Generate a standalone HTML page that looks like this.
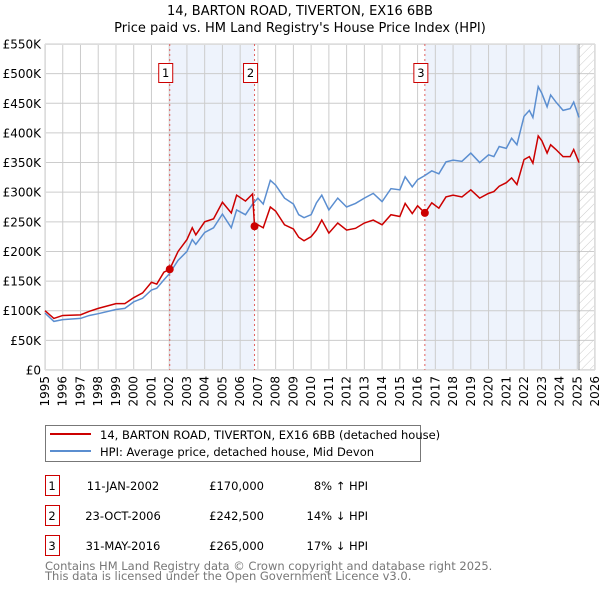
<!DOCTYPE html>
<html><head><meta charset="utf-8"><style>
body{margin:0;background:#fff;width:600px;height:590px;overflow:hidden;font-family:"DejaVu Sans","Liberation Sans",sans-serif}
svg text{font-family:"DejaVu Sans","Liberation Sans",sans-serif}
</style></head><body>
<svg id="chart" width="600" height="590" xmlns="http://www.w3.org/2000/svg">
<defs><pattern id="hatch" width="6" height="6" patternUnits="userSpaceOnUse" patternTransform="rotate(45)"><line x1="0" y1="0" x2="0" y2="6" stroke="#ccc" stroke-width="1"/></pattern></defs>
<text x="300" y="15" text-anchor="middle" font-size="13">14, BARTON ROAD, TIVERTON, EX16 6BB</text>
<text x="300" y="32" text-anchor="middle" font-size="13">Price paid vs. HM Land Registry's House Price Index (HPI)</text>
<g id="plot"></g>
<g>
<rect x="45.5" y="425.5" width="375" height="36" fill="#fff" stroke="#777"/>
<line x1="50" y1="434" x2="91" y2="434" stroke="#cc0000" stroke-width="2"/>
<text x="100" y="439" font-size="11.5">14, BARTON ROAD, TIVERTON, EX16 6BB (detached house)</text>
<line x1="50" y1="451" x2="91" y2="451" stroke="#5b8ed0" stroke-width="2"/>
<text x="100" y="456" font-size="11.5">HPI: Average price, detached house, Mid Devon</text>
</g>
<g id="table" font-size="11.5"></g>
<text x="45" y="570" font-size="11.5" fill="#777">Contains HM Land Registry data © Crown copyright and database right 2025.</text>
<text x="45" y="580" font-size="11.5" fill="#777">This data is licensed under the Open Government Licence v3.0.</text>
</svg>
<script>
const hpiYears=[1995,1995.5,1996,1997,1997.5,1998,1999,1999.5,2000,2000.5,2001,2001.3,2001.7,2002,2002.5,2003,2003.3,2003.5,2004,2004.5,2005,2005.5,2005.8,2006.3,2006.7,2007,2007.3,2007.7,2008,2008.5,2009,2009.3,2009.6,2010,2010.3,2010.6,2011,2011.5,2012,2012.5,2013,2013.5,2014,2014.5,2015,2015.3,2015.7,2016,2016.4,2016.8,2017.2,2017.6,2018,2018.5,2019,2019.5,2020,2020.3,2020.6,2021,2021.3,2021.6,2022,2022.3,2022.5,2022.8,2023,2023.3,2023.5,2023.8,2024.2,2024.6,2024.8,2025.1];
const hpiValues=[96,82,85,87,92,95,102,104,115,121,135,138,152,162,185,200,220,212,232,240,263,240,270,262,280,290,280,320,312,290,280,262,257,262,282,295,270,290,275,281,290,298,284,306,304,326,309,321,328,336,331,351,354,352,366,350,363,360,377,374,391,380,428,438,426,478,467,444,464,452,438,441,452,426];
const priceYears=[1995,1995.5,1996,1997,1997.5,1998,1999,1999.5,2000,2000.5,2001,2001.3,2001.7,2002.03,2002.5,2003,2003.3,2003.5,2004,2004.5,2005,2005.5,2005.8,2006.3,2006.7,2006.81,2007,2007.3,2007.7,2008,2008.5,2009,2009.3,2009.6,2010,2010.3,2010.6,2011,2011.5,2012,2012.5,2013,2013.5,2014,2014.5,2015,2015.3,2015.7,2016,2016.41,2016.8,2017.2,2017.6,2018,2018.5,2019,2019.5,2020,2020.3,2020.6,2021,2021.3,2021.6,2022,2022.3,2022.5,2022.8,2023,2023.3,2023.5,2023.8,2024.2,2024.6,2024.8,2025.1];
const priceValues=[100,87,92,93,99,104,112,112,122,130,148,145,165,170,200,220,240,228,250,255,283,265,295,285,297,242.5,245,240,275,268,245,238,224,218,225,236,253,231,248,236,239,248,253,245,262,259,281,264,277,265,282,273,292,295,292,304,290,298,301,310,316,324,313,355,360,349,395,387,366,380,372,360,360,372,350];
const saleYears=[2002.03,2006.81,2016.41];
const saleLabels=["1","2","3"];
const saleDates=["11-JAN-2002","23-OCT-2006","31-MAY-2016"];
const salePrices=["£170,000","£242,500","£265,000"];
const saleDiffs=["8% ↑ HPI","14% ↓ HPI","17% ↓ HPI"];
const yTicks=[0,50,100,150,200,250,300,350,400,450,500,550];
const yTickLabels=["£0","£50K","£100K","£150K","£200K","£250K","£300K","£350K","£400K","£450K","£500K","£550K"];
const xTicks=[1995,1996,1997,1998,1999,2000,2001,2002,2003,2004,2005,2006,2007,2008,2009,2010,2011,2012,2013,2014,2015,2016,2017,2018,2019,2020,2021,2022,2023,2024,2025,2026];
const salePriceValues=[170,242.5,265];
const dataEnd=2025.1;

const X0=45,X1=595,Y0=370,Y1=44;
const x=v=>X0+(v-1995)/(2026-1995)*(X1-X0);
const y=v=>Y0-v/550*(Y0-Y1);
const NS="http://www.w3.org/2000/svg";
const plot=document.getElementById('plot');
function mk(tag,attrs,parent){const e=document.createElementNS(NS,tag);for(const k in attrs)e.setAttribute(k,attrs[k]);(parent||plot).appendChild(e);return e;}
const bg=mk('rect',{x:X0,y:Y1,width:X1-X0,height:Y0-Y1,fill:'#fff'});


const sh1=mk('rect',{x:x(saleYears[0]),y:Y1,width:x(saleYears[1])-x(saleYears[0]),height:Y0-Y1,fill:'#eef3fc'});


const sh2=mk('rect',{x:x(saleYears[2]),y:Y1,width:x(dataEnd)-x(saleYears[2]),height:Y0-Y1,fill:'#eef3fc'});


const ht=mk('rect',{x:x(dataEnd),y:Y1,width:X1-x(dataEnd),height:Y0-Y1,fill:'url(#hatch)'});


xTicks.forEach((t,i)=>{
 const l=mk('line',{x1:x(t),x2:x(t),y1:Y1,y2:Y0,stroke:'#ccc','stroke-width':1});
 
 
 const tx=mk('text',{x:0,y:0,'font-size':12,'text-anchor':'end',transform:`translate(${x(t)+4},${Y0+6}) rotate(-90)`});
 tx.textContent=t;
 
 
});
yTicks.forEach((t,i)=>{
 const l=mk('line',{x1:X0,x2:X1,y1:y(t),y2:y(t),stroke:'#ccc','stroke-width':1});
 
 
 const tx=mk('text',{x:X0-4,y:y(t)+4.5,'font-size':12,'text-anchor':'end'});
 tx.textContent=yTickLabels[i];
 
 
});
const brd=mk('rect',{x:X0+0.5,y:Y1+0.5,width:X1-X0-1,height:Y0-Y1-1,fill:'none',stroke:'#ddd'});


const dl=mk('line',{x1:x(dataEnd),x2:x(dataEnd),y1:Y1,y2:Y0,stroke:'#999','stroke-width':1});


saleYears.forEach((s,i)=>{
 const l=mk('line',{x1:x(s),x2:x(s),y1:Y1,y2:Y0,stroke:'#e06060','stroke-width':1,'stroke-dasharray':'2,3'});
 
 
 const bx=x(s)-4;
 const r=mk('rect',{x:bx-7,y:63.5,width:14,height:19,fill:'#fff',stroke:'#cc0000'});
 
 
 const tx=mk('text',{x:bx,y:77,'font-size':11.5,'text-anchor':'middle'});
 tx.textContent=saleLabels[i];
 
 
});
const hp=mk('polyline',{points:hpiYears.map((t,i)=>x(t)+','+y(hpiValues[i])).join(' '),fill:'none',stroke:'#5b8ed0','stroke-width':1.5});


const pp=mk('polyline',{points:priceYears.map((t,i)=>x(t)+','+y(priceValues[i])).join(' '),fill:'none',stroke:'#cc0000','stroke-width':1.5});


saleYears.forEach((s,i)=>{
 const c=mk('circle',{cx:x(s),cy:y(salePriceValues[i]),r:4,fill:'#cc0000'});
 
 
});
const tb=document.getElementById('table');
saleLabels.forEach((lab,i)=>{
 const ry=475+i*30;
 const r=mk('rect',{x:45.5,y:ry+0.5,width:14,height:20,fill:'#fff',stroke:'#cc0000'},tb);
 
 
 const cols=[[52,lab,'middle'],[123,saleDates[i],'middle'],[264,salePrices[i],'end'],[368,saleDiffs[i],'end']];
 cols.forEach(([cx,txt,anc],j)=>{
  const t=mk('text',{x:cx,y:ry+15,'text-anchor':anc},tb);
  t.textContent=txt;
  
  
 });
});
</script>
</body></html>
